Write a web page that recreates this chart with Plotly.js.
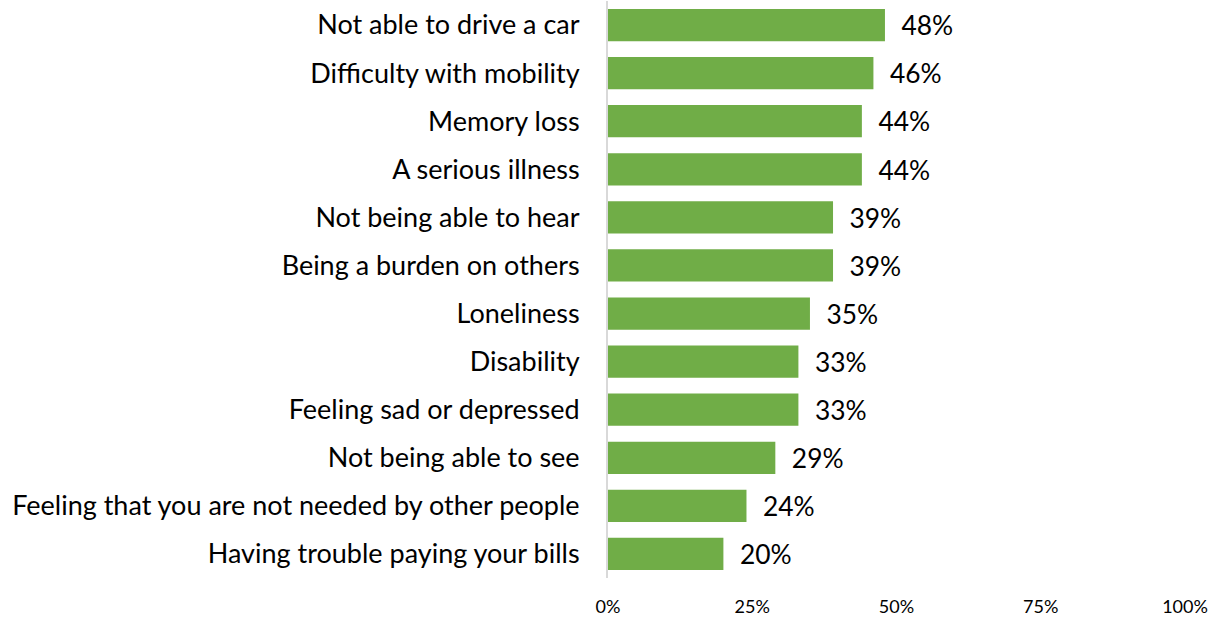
<!DOCTYPE html>
<html>
<head>
<meta charset="utf-8">
<script src="https://cdn.plot.ly/plotly-3.0.1.min.js"></script>
<style>html,body{margin:0;padding:0;background:#fff;}#chart{width:1222px;height:621px;}</style>
</head>
<body>
<div id="chart"></div>
<script>
const categories = [
  "Not able to drive a car",
  "Difficulty with mobility",
  "Memory loss",
  "A serious illness",
  "Not being able to hear",
  "Being a burden on others",
  "Loneliness",
  "Disability",
  "Feeling sad or depressed",
  "Not being able to see",
  "Feeling that you are not needed by other people",
  "Having trouble paying your bills"
];
const values = [0.48, 0.46, 0.44, 0.44, 0.39, 0.39, 0.35, 0.33, 0.33, 0.29, 0.24, 0.20];
const tickVals = [0, 0.25, 0.5, 0.75, 1];
const tickText = ["0%", "25%", "50%", "75%", "100%"];

const FONT = "Lato, 'Open Sans', sans-serif";

const trace = {
  type: "bar",
  orientation: "h",
  x: values,
  y: categories,
  marker: {color: "#70AD47"},
  text: values.map(v => "\u00a0\u00a0" + Math.round(v * 100) + "%"),
  textposition: "outside",
  textfont: {family: FONT, size: 27, color: "#000"},
  cliponaxis: false,
  hoverinfo: "none"
};

const layout = {
  width: 1222,
  height: 621,
  margin: {l: 608, r: 37, t: 1, b: 43},
  paper_bgcolor: "#fff",
  plot_bgcolor: "#fff",
  bargap: 0.33,
  showlegend: false,
  font: {family: FONT, color: "#000"},
  xaxis: {
    range: [0, 1],
    tickvals: tickVals,
    ticktext: tickText,
    showgrid: false,
    zeroline: false,
    showline: false,
    ticks: "",
    ticklabelstandoff: 16,
    tickfont: {family: FONT, size: 18, color: "#000"},
    fixedrange: true
  },
  yaxis: {
    autorange: "reversed",
    showgrid: false,
    zeroline: false,
    showline: true,
    linecolor: "#d9d9d9",
    linewidth: 2,
    ticks: "",
    ticklabelstandoff: 21,
    tickfont: {family: FONT, size: 27, color: "#000"},
    fixedrange: true
  }
};

Plotly.newPlot("chart", [trace], layout, {displayModeBar: false, staticPlot: true});
</script>
</body>
</html>
